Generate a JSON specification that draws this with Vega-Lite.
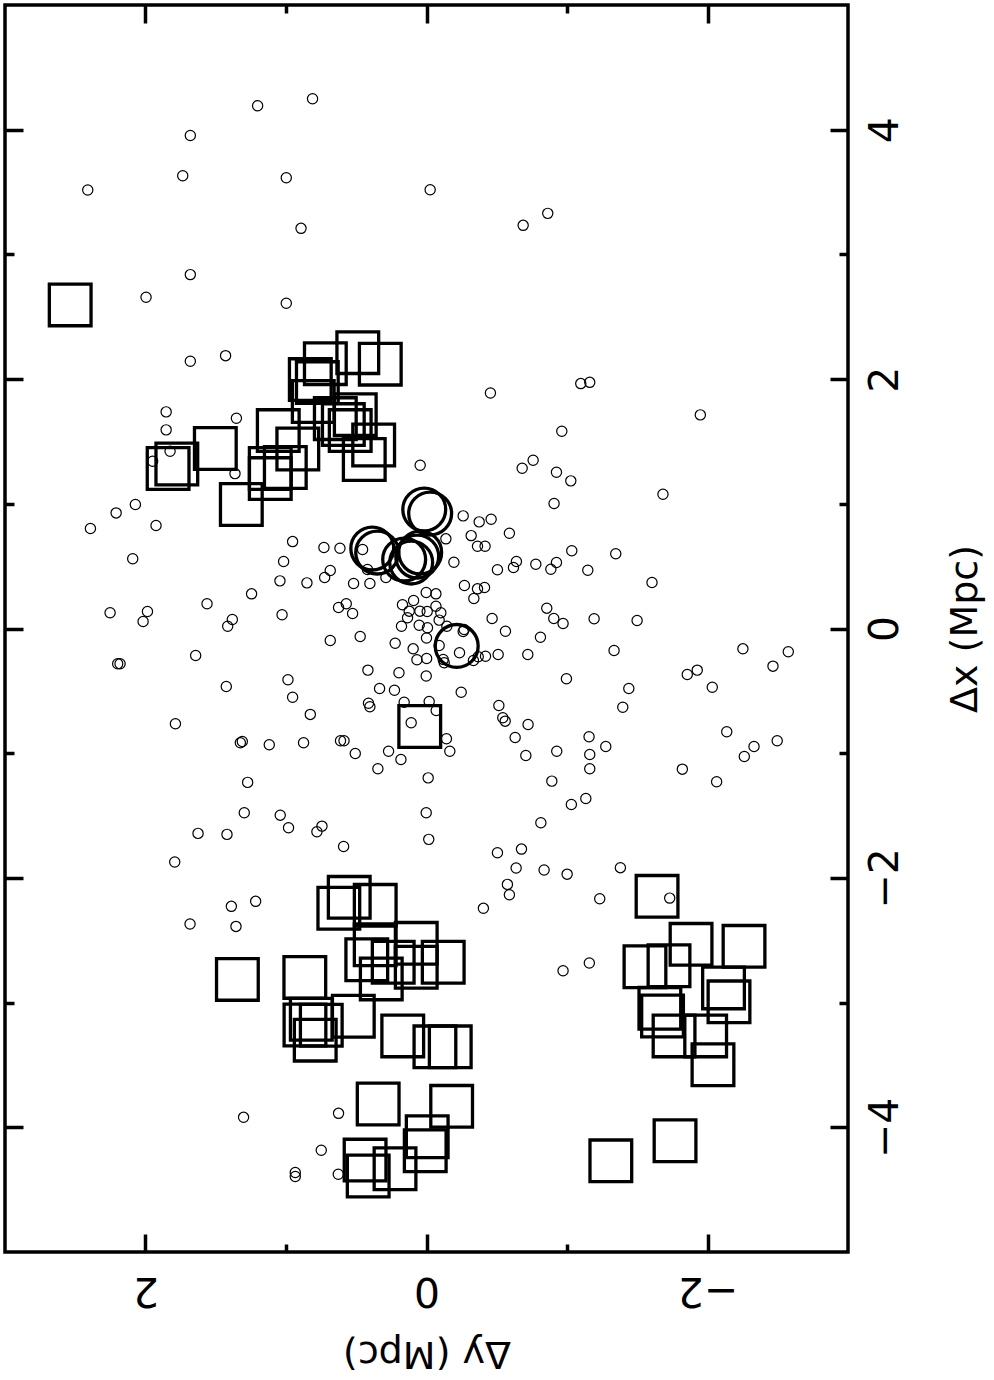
{
  "$schema": "https://vega.github.io/schema/vega-lite/v6.json",
  "width": 843,
  "height": 1247,
  "autosize": "none",
  "padding": {"left": 5, "top": 5, "right": 146, "bottom": 128},
  "background": "white",
  "config": {
    "view": {"stroke": "black", "strokeWidth": 3.5},
    "axis": {
      "grid": false, "domain": false, "tickColor": "black", "tickWidth": 3.5,
      "labelColor": "black", "titleColor": "black",
      "labelFont": "DejaVu Sans", "titleFont": "DejaVu Sans",
      "labelFontSize": 41, "titleFontSize": 38, "titleFontWeight": "normal",
      "labelOverlap": false, "labelFlush": false
    }
  },
  "data": {"values": [
    {"type":"g","dy":1.202,"dx":4.192},{"type":"g","dy":0.811,"dx":4.248},{"type":"g","dy":1.681,"dx":3.954},{"type":"g","dy":1.735,"dx":3.631},
    {"type":"g","dy":2.411,"dx":3.517},{"type":"g","dy":0.998,"dx":3.615},{"type":"g","dy":0.893,"dx":3.209},{"type":"g","dy":-0.026,"dx":3.519},
    {"type":"g","dy":-0.688,"dx":3.233},{"type":"g","dy":-0.863,"dx":3.329},{"type":"g","dy":1.681,"dx":2.838},{"type":"g","dy":1.996,"dx":2.656},
    {"type":"g","dy":0.998,"dx":2.608},{"type":"g","dy":1.681,"dx":2.143},{"type":"g","dy":1.430,"dx":2.188},{"type":"g","dy":1.853,"dx":1.737},
    {"type":"g","dy":1.353,"dx":1.686},{"type":"g","dy":1.853,"dx":1.593},{"type":"g","dy":1.825,"dx":1.421},{"type":"g","dy":1.949,"dx":1.341},
    {"type":"g","dy":1.363,"dx":1.242},{"type":"g","dy":0.045,"dx":1.309},{"type":"g","dy":-0.455,"dx":1.889},{"type":"g","dy":-1.098,"dx":1.964},
    {"type":"g","dy":-1.162,"dx":1.974},{"type":"g","dy":-1.949,"dx":1.713},{"type":"g","dy":-0.963,"dx":1.582},{"type":"g","dy":-0.759,"dx":1.349},
    {"type":"g","dy":-0.681,"dx":1.285},{"type":"g","dy":-0.925,"dx":1.253},{"type":"g","dy":-1.027,"dx":1.184},{"type":"g","dy":-1.683,"dx":1.077},
    {"type":"g","dy":-0.908,"dx":1.002},{"type":"g","dy":2.072,"dx":0.994},{"type":"g","dy":2.209,"dx":0.927},{"type":"g","dy":2.392,"dx":0.802},
    {"type":"g","dy":1.925,"dx":0.826},{"type":"g","dy":2.091,"dx":0.559},{"type":"g","dy":0.953,"dx":0.697},{"type":"g","dy":1.017,"dx":0.537},
    {"type":"g","dy":0.730,"dx":0.649},{"type":"g","dy":0.616,"dx":0.644},{"type":"g","dy":0.455,"dx":0.633},{"type":"g","dy":1.043,"dx":0.382},
    {"type":"g","dy":0.851,"dx":0.366},{"type":"g","dy":0.725,"dx":0.409},{"type":"g","dy":0.685,"dx":0.465},{"type":"g","dy":0.519,"dx":0.361},
    {"type":"g","dy":0.403,"dx":0.361},{"type":"g","dy":0.420,"dx":0.473},{"type":"g","dy":0.289,"dx":0.409},{"type":"g","dy":1.245,"dx":0.278},
    {"type":"g","dy":1.562,"dx":0.198},{"type":"g","dy":2.252,"dx":0.126},{"type":"g","dy":1.986,"dx":0.136},{"type":"g","dy":2.017,"dx":0.056},
    {"type":"g","dy":1.382,"dx":0.072},{"type":"g","dy":1.415,"dx":0.018},{"type":"g","dy":1.028,"dx":0.110},{"type":"g","dy":0.626,"dx":0.168},
    {"type":"g","dy":0.571,"dx":0.198},{"type":"g","dy":0.526,"dx":0.120},{"type":"g","dy":0.171,"dx":0.190},{"type":"g","dy":0.092,"dx":0.224},
    {"type":"g","dy":0.123,"dx":0.139},{"type":"g","dy":0.002,"dx":0.289},{"type":"g","dy":0.047,"dx":0.139},{"type":"g","dy":0.135,"dx":0.086},
    {"type":"g","dy":0.178,"dx":0.018},{"type":"g","dy":0.052,"dx":0.026},{"type":"g","dy":0.000,"dx":-0.076},{"type":"g","dy":0.685,"dx":-0.096},
    {"type":"g","dy":0.472,"dx":-0.064},{"type":"g","dy":0.223,"dx":-0.118},{"type":"g","dy":0.095,"dx":-0.163},{"type":"g","dy":0.068,"dx":-0.251},
    {"type":"g","dy":-0.001,"dx":-0.240},{"type":"g","dy":2.198,"dx":-0.283},{"type":"g","dy":2.181,"dx":-0.283},{"type":"g","dy":1.643,"dx":-0.216},
    {"type":"g","dy":1.425,"dx":-0.465},{"type":"g","dy":0.986,"dx":-0.411},{"type":"g","dy":0.953,"dx":-0.551},{"type":"g","dy":0.827,"dx":-0.689},
    {"type":"g","dy":0.417,"dx":-0.334},{"type":"g","dy":0.196,"dx":-0.355},{"type":"g","dy":0.002,"dx":-0.381},{"type":"g","dy":0.334,"dx":-0.481},
    {"type":"g","dy":0.228,"dx":-0.495},{"type":"g","dy":0.413,"dx":-0.599},{"type":"g","dy":0.403,"dx":-0.628},{"type":"g","dy":0.159,"dx":-0.591},
    {"type":"g","dy":-0.019,"dx":-0.585},{"type":"g","dy":0.109,"dx":-0.756},{"type":"g","dy":1.787,"dx":-0.764},{"type":"g","dy":1.325,"dx":-0.916},
    {"type":"g","dy":1.311,"dx":-0.906},{"type":"g","dy":1.119,"dx":-0.932},{"type":"g","dy":0.875,"dx":-0.916},{"type":"g","dy":0.612,"dx":-0.900},
    {"type":"g","dy":0.587,"dx":-0.900},{"type":"g","dy":0.507,"dx":-1.002},{"type":"g","dy":0.270,"dx":-0.984},{"type":"g","dy":0.182,"dx":-1.050},
    {"type":"g","dy":0.346,"dx":-1.125},{"type":"g","dy":-0.012,"dx":-1.198},{"type":"g","dy":1.273,"dx":-1.234},{"type":"g","dy":1.297,"dx":-1.477},
    {"type":"g","dy":1.041,"dx":-1.497},{"type":"g","dy":0.982,"dx":-1.598},{"type":"g","dy":0.780,"dx":-1.630},{"type":"g","dy":0.744,"dx":-1.585},
    {"type":"g","dy":1.626,"dx":-1.643},{"type":"g","dy":1.420,"dx":-1.651},{"type":"g","dy":0.590,"dx":-1.748},{"type":"g","dy":1.792,"dx":-1.873},
    {"type":"g","dy":0.002,"dx":-1.477},{"type":"g","dy":-0.016,"dx":-1.691},{"type":"g","dy":1.216,"dx":-2.188},{"type":"g","dy":1.389,"dx":-2.228},
    {"type":"g","dy":1.683,"dx":-2.370},{"type":"g","dy":1.356,"dx":-2.389},{"type":"g","dy":1.302,"dx":-3.920},{"type":"g","dy":0.626,"dx":-3.888},
    {"type":"g","dy":0.749,"dx":-4.184},{"type":"g","dy":0.934,"dx":-4.363},{"type":"g","dy":0.934,"dx":-4.395},{"type":"g","dy":0.628,"dx":-4.377},
    {"type":"g","dy":-0.261,"dx":0.903},{"type":"g","dy":-0.375,"dx":0.855},{"type":"g","dy":-0.460,"dx":0.876},{"type":"g","dy":-0.590,"dx":0.764},
    {"type":"g","dy":-0.318,"dx":0.745},{"type":"g","dy":-0.363,"dx":0.660},{"type":"g","dy":-0.417,"dx":0.660},{"type":"g","dy":-0.138,"dx":0.719},
    {"type":"g","dy":-0.195,"dx":0.531},{"type":"g","dy":-0.505,"dx":0.471},{"type":"g","dy":-0.619,"dx":0.489},{"type":"g","dy":-0.640,"dx":0.537},
    {"type":"g","dy":-0.778,"dx":0.515},{"type":"g","dy":-0.885,"dx":0.475},{"type":"g","dy":-0.925,"dx":0.529},{"type":"g","dy":-1.034,"dx":0.623},
    {"type":"g","dy":-1.148,"dx":0.467},{"type":"g","dy":-1.347,"dx":0.599},{"type":"g","dy":-1.605,"dx":0.369},{"type":"g","dy":-0.270,"dx":0.345},
    {"type":"g","dy":-0.363,"dx":0.318},{"type":"g","dy":-0.413,"dx":0.329},{"type":"g","dy":-0.337,"dx":0.240},{"type":"g","dy":-0.067,"dx":0.278},
    {"type":"g","dy":-0.067,"dx":0.179},{"type":"g","dy":-0.102,"dx":0.126},{"type":"g","dy":-0.090,"dx":0.067},{"type":"g","dy":-0.145,"dx":0.018},
    {"type":"g","dy":-0.007,"dx":0.006},{"type":"g","dy":-0.467,"dx":0.080},{"type":"g","dy":-0.562,"dx":-0.022},{"type":"g","dy":-0.856,"dx":0.163},
    {"type":"g","dy":-0.906,"dx":0.080},{"type":"g","dy":-0.972,"dx":0.040},{"type":"g","dy":-1.193,"dx":0.078},{"type":"g","dy":-1.499,"dx":0.064},
    {"type":"g","dy":-0.811,"dx":-0.070},{"type":"g","dy":-0.261,"dx":-0.024},{"type":"g","dy":-0.268,"dx":-0.008},{"type":"g","dy":-0.090,"dx":-0.136},
    {"type":"g","dy":-0.235,"dx":-0.195},{"type":"g","dy":-0.126,"dx":-0.275},{"type":"g","dy":-0.119,"dx":-0.248},{"type":"g","dy":-0.334,"dx":-0.257},
    {"type":"g","dy":-0.368,"dx":-0.227},{"type":"g","dy":-0.420,"dx":-0.222},{"type":"g","dy":-0.510,"dx":-0.208},{"type":"g","dy":-0.721,"dx":-0.208},
    {"type":"g","dy":-1.335,"dx":-0.176},{"type":"g","dy":-2.252,"dx":-0.163},{"type":"g","dy":-2.575,"dx":-0.187},{"type":"g","dy":-2.466,"dx":-0.302},
    {"type":"g","dy":-1.856,"dx":-0.369},{"type":"g","dy":-1.927,"dx":-0.334},{"type":"g","dy":-2.034,"dx":-0.471},{"type":"g","dy":-0.996,"dx":-0.403},
    {"type":"g","dy":-1.440,"dx":-0.481},{"type":"g","dy":-1.397,"dx":-0.631},{"type":"g","dy":-0.247,"dx":-0.511},{"type":"g","dy":-0.069,"dx":-0.657},
    {"type":"g","dy":-0.515,"dx":-0.617},{"type":"g","dy":-0.543,"dx":-0.716},{"type":"g","dy":-0.560,"dx":-0.743},{"type":"g","dy":-0.723,"dx":-0.770},
    {"type":"g","dy":-0.631,"dx":-0.874},{"type":"g","dy":-1.157,"dx":-0.868},{"type":"g","dy":-1.276,"dx":-0.946},{"type":"g","dy":-2.137,"dx":-0.828},
    {"type":"g","dy":-2.496,"dx":-0.900},{"type":"g","dy":-2.331,"dx":-0.946},{"type":"g","dy":-2.262,"dx":-1.026},{"type":"g","dy":-0.142,"dx":-0.884},
    {"type":"g","dy":-0.166,"dx":-0.984},{"type":"g","dy":-0.707,"dx":-1.018},{"type":"g","dy":-0.927,"dx":-0.984},{"type":"g","dy":-1.162,"dx":-1.010},
    {"type":"g","dy":-1.162,"dx":-1.125},{"type":"g","dy":-0.892,"dx":-1.224},{"type":"g","dy":-1.821,"dx":-1.128},{"type":"g","dy":-2.065,"dx":-1.229},
    {"type":"g","dy":-1.134,"dx":-1.363},{"type":"g","dy":-1.031,"dx":-1.411},{"type":"g","dy":-0.814,"dx":-1.558},{"type":"g","dy":-0.676,"dx":-1.769},
    {"type":"g","dy":-0.505,"dx":-1.798},{"type":"g","dy":-0.638,"dx":-1.921},{"type":"g","dy":-0.837,"dx":-1.937},{"type":"g","dy":-1.001,"dx":-1.970},
    {"type":"g","dy":-1.380,"dx":-1.918},{"type":"g","dy":-0.576,"dx":-2.052},{"type":"g","dy":-0.590,"dx":-2.135},{"type":"g","dy":-0.405,"dx":-2.244},
    {"type":"g","dy":-1.233,"dx":-2.167},{"type":"g","dy":-1.731,"dx":-2.162},{"type":"g","dy":-0.972,"dx":-2.744},{"type":"g","dy":-1.159,"dx":-2.683},
    {"type":"g","dy":-0.005,"dx":0.136},

    {"type":"b","dy":0.386,"dx":0.641},{"type":"b","dy":0.351,"dx":0.609},{"type":"b","dy":0.159,"dx":0.553},{"type":"b","dy":0.109,"dx":0.529},
    {"type":"b","dy":0.066,"dx":0.577},{"type":"b","dy":0.045,"dx":0.609},{"type":"b","dy":0.016,"dx":0.954},{"type":"b","dy":-0.026,"dx":0.922},
    {"type":"b","dy":-0.215,"dx":-0.140},

    {"type":"s","cluster":1,"dy":2.536,"dx":2.595},{"type":"s","cluster":1,"dy":0.489,"dx":2.212},{"type":"s","cluster":1,"dy":0.329,"dx":2.120},
    {"type":"s","cluster":1,"dy":0.720,"dx":2.124},{"type":"s","cluster":1,"dy":0.827,"dx":1.996},{"type":"s","cluster":1,"dy":0.777,"dx":1.972},
    {"type":"s","cluster":1,"dy":0.806,"dx":1.820},{"type":"s","cluster":1,"dy":0.649,"dx":1.683},{"type":"s","cluster":1,"dy":0.507,"dx":1.715},
    {"type":"s","cluster":1,"dy":0.543,"dx":1.587},{"type":"s","cluster":1,"dy":0.443,"dx":1.355},{"type":"s","cluster":1,"dy":0.376,"dx":1.471},
    {"type":"s","cluster":1,"dy":1.055,"dx":1.587},{"type":"s","cluster":1,"dy":0.916,"dx":1.439},{"type":"s","cluster":1,"dy":1.005,"dx":1.291},
    {"type":"s","cluster":1,"dy":1.112,"dx":1.283},{"type":"s","cluster":1,"dy":1.112,"dx":1.202},{"type":"s","cluster":1,"dy":1.318,"dx":0.994},
    {"type":"s","cluster":1,"dy":1.503,"dx":1.443},{"type":"s","cluster":1,"dy":1.777,"dx":1.319},{"type":"s","cluster":1,"dy":1.839,"dx":1.283},
    {"type":"s","cluster":1,"dy":0.592,"dx":1.635},
    {"type":"s","cluster":0,"dy":0.048,"dx":-0.786},
    {"type":"s","cluster":2,"dy":0.550,"dx":-2.156},{"type":"s","cluster":2,"dy":0.624,"dx":-2.244},{"type":"s","cluster":2,"dy":0.365,"dx":-2.220},
    {"type":"s","cluster":2,"dy":1.346,"dx":-2.814},{"type":"s","cluster":2,"dy":0.866,"dx":-2.798},{"type":"s","cluster":2,"dy":0.425,"dx":-2.657},
    {"type":"s","cluster":2,"dy":0.322,"dx":-2.810},{"type":"s","cluster":2,"dy":0.365,"dx":-2.537},{"type":"s","cluster":2,"dy":0.237,"dx":-2.677},
    {"type":"s","cluster":2,"dy":0.073,"dx":-2.525},{"type":"s","cluster":2,"dy":0.073,"dx":-2.717},{"type":"s","cluster":2,"dy":-0.119,"dx":-2.677},
    {"type":"s","cluster":2,"dy":0.865,"dx":-3.180},{"type":"s","cluster":2,"dy":0.792,"dx":-3.301},{"type":"s","cluster":2,"dy":0.749,"dx":-3.181},
    {"type":"s","cluster":2,"dy":0.521,"dx":-3.110},{"type":"s","cluster":2,"dy":0.169,"dx":-3.267},{"type":"s","cluster":2,"dy":-0.060,"dx":-3.355},
    {"type":"s","cluster":2,"dy":-0.169,"dx":-3.355},{"type":"s","cluster":2,"dy":0.344,"dx":-3.813},{"type":"s","cluster":2,"dy":-0.179,"dx":-3.832},
    {"type":"s","cluster":2,"dy":-0.005,"dx":-4.076},{"type":"s","cluster":2,"dy":0.009,"dx":-4.188},{"type":"s","cluster":2,"dy":0.437,"dx":-4.263},
    {"type":"s","cluster":2,"dy":0.415,"dx":-4.390},{"type":"s","cluster":2,"dy":0.224,"dx":-4.333},{"type":"s","cluster":2,"dy":0.820,"dx":-3.134},
    {"type":"s","cluster":3,"dy":-1.641,"dx":-2.148},{"type":"s","cluster":3,"dy":-1.883,"dx":-2.533},{"type":"s","cluster":3,"dy":-2.260,"dx":-2.549},
    {"type":"s","cluster":3,"dy":-1.555,"dx":-2.713},{"type":"s","cluster":3,"dy":-1.726,"dx":-2.705},{"type":"s","cluster":3,"dy":-2.114,"dx":-2.882},
    {"type":"s","cluster":3,"dy":-2.153,"dx":-2.994},{"type":"s","cluster":3,"dy":-1.661,"dx":-3.046},{"type":"s","cluster":3,"dy":-1.680,"dx":-3.108},
    {"type":"s","cluster":3,"dy":-1.762,"dx":-3.267},{"type":"s","cluster":3,"dy":-1.987,"dx":-3.267},{"type":"s","cluster":3,"dy":-2.039,"dx":-3.499},
    {"type":"s","cluster":3,"dy":-1.312,"dx":-4.269},{"type":"s","cluster":3,"dy":-1.769,"dx":-4.108}
  ]},
  "layer": [
    {
      "transform": [{"filter": "datum.type === 'g'"}],
      "mark": {"type": "point", "shape": "circle", "filled": false, "stroke": "black", "strokeWidth": 1.2, "size": 105, "opacity": 1},
      "encoding": {
        "x": {"field": "dy", "type": "quantitative", "scale": {"domain": [-3, 3], "reverse": true, "nice": false, "zero": false},
          "axis": {"orient": "bottom", "values": [-2, 0, 2], "tickSize": -18, "labelAngle": 180, "labelAlign": "center", "labelBaseline": "middle", "labelPadding": 55,
            "title": "Δy (Mpc)", "titleAngle": 180, "titleAlign": "center", "titleBaseline": "middle", "titlePadding": 42}},
        "y": {"field": "dx", "type": "quantitative", "scale": {"domain": [-5, 5], "nice": false, "zero": false},
          "axis": {"orient": "right", "values": [-4, -2, 0, 2, 4], "tickSize": -18, "labelAngle": 270, "labelAlign": "center", "labelBaseline": "middle", "labelPadding": 55,
            "title": "Δx (Mpc)", "titleAngle": 270, "titleAlign": "center", "titleBaseline": "middle", "titlePadding": 60}}
      }
    },
    {
      "transform": [{"filter": "datum.type === 's' && datum.cluster <= 1"}],
      "mark": {"type": "point", "shape": "square", "filled": false, "stroke": "black", "strokeWidth": 3.3, "size": 1740, "opacity": 1},
      "encoding": {
        "x": {"field": "dy", "type": "quantitative", "scale": {"domain": [-3, 3], "reverse": true, "nice": false, "zero": false},
          "axis": {"orient": "top", "values": [-2, 0, 2], "tickSize": -18, "labels": false, "title": null}},
        "y": {"field": "dx", "type": "quantitative", "scale": {"domain": [-5, 5], "nice": false, "zero": false},
          "axis": {"orient": "left", "values": [-4, -2, 0, 2, 4], "tickSize": -18, "labels": false, "title": null}}
      }
    },
    {
      "transform": [{"filter": "datum.type === 's' && datum.cluster >= 2"}],
      "mark": {"type": "point", "shape": "square", "filled": false, "stroke": "black", "strokeWidth": 3.3, "size": 1740, "opacity": 1},
      "encoding": {
        "x": {"field": "dy", "type": "quantitative", "scale": {"domain": [-3, 3], "reverse": true, "nice": false, "zero": false},
          "axis": {"orient": "top", "values": [-1, 1], "tickSize": -8, "labels": false, "title": null}},
        "y": {"field": "dx", "type": "quantitative", "scale": {"domain": [-5, 5], "nice": false, "zero": false},
          "axis": {"orient": "left", "values": [-3, -1, 1, 3], "tickSize": -9, "labels": false, "title": null}}
      }
    },
    {
      "transform": [{"filter": "datum.type === 'b'"}],
      "mark": {"type": "point", "shape": "circle", "filled": false, "stroke": "black", "strokeWidth": 3.3, "size": 1840, "opacity": 1},
      "encoding": {
        "x": {"field": "dy", "type": "quantitative", "scale": {"domain": [-3, 3], "reverse": true, "nice": false, "zero": false},
          "axis": {"orient": "bottom", "values": [-1, 1], "tickSize": -8, "labels": false, "title": null}},
        "y": {"field": "dx", "type": "quantitative", "scale": {"domain": [-5, 5], "nice": false, "zero": false},
          "axis": {"orient": "right", "values": [-3, -1, 1, 3], "tickSize": -9, "labels": false, "title": null}}
      }
    }
  ],
  "resolve": {"axis": {"x": "independent", "y": "independent"}}
}
